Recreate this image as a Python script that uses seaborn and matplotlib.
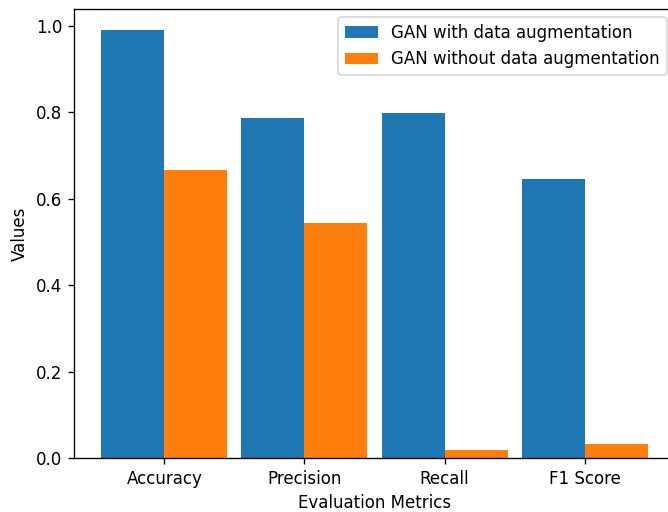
import pandas as pd
import matplotlib
matplotlib.use("Agg")
import matplotlib.pyplot as plt
import seaborn as sns

# data
metrics = ["Accuracy", "Precision", "Recall", "F1 Score"]
with_aug = [0.990, 0.786, 0.798, 0.647]
without_aug = [0.666, 0.544, 0.018, 0.032]
series_names = ["GAN with data augmentation", "GAN without data augmentation"]

df = pd.DataFrame({
    "Metric": metrics * 2,
    "Value": with_aug + without_aug,
    "Model": [series_names[0]] * len(metrics) + [series_names[1]] * len(metrics),
})

# reference looks rendered at ~1.2x scale
DPI = 120
fig = plt.figure(figsize=(668 / DPI, 512 / DPI), dpi=DPI)
ax = fig.add_axes([74 / 668, 54 / 512, 601 / 668, 449 / 512])

sns.barplot(data=df, x="Metric", y="Value", hue="Model",
            palette=["#1f77b4", "#ff7f0e"], width=0.9, gap=0,
            saturation=1, linewidth=0, ax=ax)

ax.set_xlim(-0.645, 3.645)
ax.set_ylim(0, 1.0395)
ax.set_xlabel("Evaluation Metrics")
ax.set_ylabel("Values")
sns.move_legend(ax, "upper right", title=None)

fig.savefig("out.png", dpi=DPI)
